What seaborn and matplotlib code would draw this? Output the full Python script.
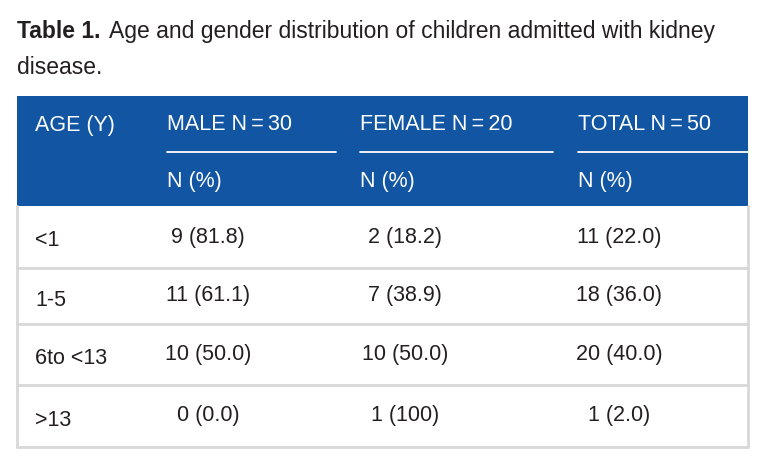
import matplotlib
matplotlib.use("Agg")
import matplotlib.pyplot as plt
import seaborn as sns

# table contents
age_groups = ["<1", "1-5", "6to <13", ">13"]
male = ["9 (81.8)", "11 (61.1)", "10 (50.0)", "0 (0.0)"]
female = ["2 (18.2)", "7 (38.9)", "10 (50.0)", "1 (100)"]
total = ["11 (22.0)", "18 (36.0)", "20 (40.0)", "1 (2.0)"]
col_headers = ["AGE (Y)", "MALE N\u2009=\u200930", "FEMALE N\u2009=\u200920", "TOTAL N\u2009=\u200950"]
sub_header = "N (%)"

sns.set_theme(style="white")
plt.rcParams["font.family"] = ["Liberation Sans", "DejaVu Sans"]

blue = "#1256a3"
grid = "#d8d8d8"
ink = "#231f20"

fig = plt.figure(figsize=(7.65, 4.66), dpi=100)
ax = fig.add_axes([0, 0, 1, 1])
ax.set_xlim(0, 765)
ax.set_ylim(466, 0)
ax.axis("off")

# layout (pixels)
left, right = 17, 748
head_top, head_bot = 96, 206
row_edges = [206, 268, 324, 385, 447]
col_left = [35, 167, 360, 578]
col_center = [None, 208, 405, 619]
rule_end = [None, 336, 553, 748]

# title
t1 = ax.text(left, 38, "Table 1.", fontsize=16.5, fontweight="bold", color=ink, va="baseline")
fig.canvas.draw()
bb = t1.get_window_extent().transformed(ax.transData.inverted())
ax.text(bb.x1 + 9, 38, "Age and gender distribution of children admitted with kidney",
        fontsize=16.5, color=ink, va="baseline")
ax.text(left, 74, "disease.", fontsize=16.5, color=ink, va="baseline")

# header band
ax.fill_between([left, right], head_top, head_bot, color=blue, lw=0)
for i, h in enumerate(col_headers):
    ax.text(col_left[i], 125, h, fontsize=15.5, color="white", va="center")
for i in range(1, 4):
    ax.plot([col_left[i], rule_end[i]], [152, 152], color="white", lw=1.3)
    ax.text(col_left[i], 181, sub_header, fontsize=15.5, color="white", va="center")

# body borders
ax.plot([left, left], [head_bot, row_edges[-1]], color=grid, lw=2)
ax.plot([right, right], [head_bot, row_edges[-1]], color=grid, lw=2)
for y in row_edges[1:]:
    ax.plot([left, right], [y, y], color=grid, lw=2)

# body cells
for r, label in enumerate(age_groups):
    yc = (row_edges[r] + row_edges[r + 1]) / 2
    ax.text(col_left[0], yc + 4, label, fontsize=15.5, color=ink, va="center")
    for c, vals in zip([1, 2, 3], [male, female, total]):
        ax.text(col_center[c], yc, vals[r], fontsize=15.5, color=ink,
                va="center", ha="center")

fig.savefig("out.png", dpi=100, facecolor="white")
